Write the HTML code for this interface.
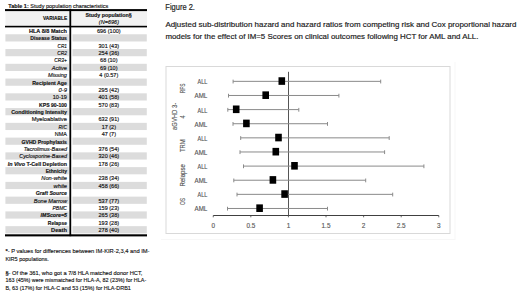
<!DOCTYPE html>
<html><head><meta charset="utf-8"><title>Table and Figure</title>
<style>
html,body{margin:0;padding:0;background:#fff;width:520px;height:297px;overflow:hidden;font-family:"Liberation Sans",sans-serif;}
svg{display:block;}
</style></head><body>
<svg width="520" height="297" viewBox="0 0 520 297" style="font-family:&quot;Liberation Sans&quot;, sans-serif">
<rect width="520" height="297" fill="#fff"/>
<text x="8.30" y="7.60" font-size="6.1" fill="#111" stroke="#111" stroke-width="0.16" textLength="100.00" lengthAdjust="spacingAndGlyphs"><tspan font-weight="bold">Table 1:</tspan> Study population characteristics</text>
<rect x="5.5" y="11" width="141.5" height="15" fill="#f2f2f2"/>
<rect x="5.4" y="34.28" width="63.4" height="7.2" fill="#dcdcdc"/>
<rect x="72.5" y="34.28" width="74.3" height="7.2" fill="#dcdcdc"/>
<rect x="5.4" y="49.04" width="63.4" height="7.2" fill="#dcdcdc"/>
<rect x="72.5" y="49.04" width="74.3" height="7.2" fill="#dcdcdc"/>
<rect x="5.4" y="63.80" width="63.4" height="7.2" fill="#dcdcdc"/>
<rect x="72.5" y="63.80" width="74.3" height="7.2" fill="#dcdcdc"/>
<rect x="5.4" y="78.56" width="63.4" height="7.2" fill="#dcdcdc"/>
<rect x="72.5" y="78.56" width="74.3" height="7.2" fill="#dcdcdc"/>
<rect x="5.4" y="93.32" width="63.4" height="7.2" fill="#dcdcdc"/>
<rect x="72.5" y="93.32" width="74.3" height="7.2" fill="#dcdcdc"/>
<rect x="5.4" y="108.08" width="63.4" height="7.2" fill="#dcdcdc"/>
<rect x="72.5" y="108.08" width="74.3" height="7.2" fill="#dcdcdc"/>
<rect x="5.4" y="122.84" width="63.4" height="7.2" fill="#dcdcdc"/>
<rect x="72.5" y="122.84" width="74.3" height="7.2" fill="#dcdcdc"/>
<rect x="5.4" y="137.60" width="63.4" height="7.2" fill="#dcdcdc"/>
<rect x="72.5" y="137.60" width="74.3" height="7.2" fill="#dcdcdc"/>
<rect x="5.4" y="152.36" width="63.4" height="7.2" fill="#dcdcdc"/>
<rect x="72.5" y="152.36" width="74.3" height="7.2" fill="#dcdcdc"/>
<rect x="5.4" y="167.12" width="63.4" height="7.2" fill="#dcdcdc"/>
<rect x="72.5" y="167.12" width="74.3" height="7.2" fill="#dcdcdc"/>
<rect x="5.4" y="181.88" width="63.4" height="7.2" fill="#dcdcdc"/>
<rect x="72.5" y="181.88" width="74.3" height="7.2" fill="#dcdcdc"/>
<rect x="5.4" y="196.64" width="63.4" height="7.2" fill="#dcdcdc"/>
<rect x="72.5" y="196.64" width="74.3" height="7.2" fill="#dcdcdc"/>
<rect x="5.4" y="211.40" width="63.4" height="7.2" fill="#dcdcdc"/>
<rect x="72.5" y="211.40" width="74.3" height="7.2" fill="#dcdcdc"/>
<rect x="5.4" y="226.16" width="63.4" height="7.2" fill="#dcdcdc"/>
<rect x="72.5" y="226.16" width="74.3" height="7.2" fill="#dcdcdc"/>
<rect x="5" y="9.1" width="142" height="2.0" fill="#000"/>
<rect x="5" y="25.8" width="142" height="1.6" fill="#000"/>
<rect x="5" y="234.3" width="142" height="2.1" fill="#000"/>
<rect x="69.4" y="8.8" width="1.8" height="227.4" fill="#000"/>
<text x="67.20" y="19.80" font-size="6.1" font-weight="bold" text-anchor="end" fill="#111" stroke="#111" stroke-width="0.16" textLength="24.20" lengthAdjust="spacingAndGlyphs">VARIABLE</text>
<text x="108.60" y="17.30" font-size="6.1" font-weight="bold" text-anchor="middle" fill="#111" stroke="#111" stroke-width="0.16" textLength="46.40" lengthAdjust="spacingAndGlyphs">Study population§</text>
<text x="108.90" y="24.30" font-size="6.1" font-style="italic" text-anchor="middle" fill="#111" stroke="#111" stroke-width="0.16" textLength="20.20" lengthAdjust="spacingAndGlyphs">(N=696)</text>
<text x="66.95" y="32.85" font-size="6.1" font-weight="bold" text-anchor="end" fill="#111" stroke="#111" stroke-width="0.16" textLength="38.00" lengthAdjust="spacingAndGlyphs">HLA 8/8 Match</text>
<text x="108.80" y="32.85" font-size="6.1" text-anchor="middle" fill="#111" stroke="#111" stroke-width="0.16" textLength="23.63" lengthAdjust="spacingAndGlyphs">696 (100)</text>
<text x="66.95" y="40.23" font-size="6.1" font-weight="bold" text-anchor="end" fill="#111" stroke="#111" stroke-width="0.16" textLength="36.60" lengthAdjust="spacingAndGlyphs">Disease Status</text>
<text x="66.95" y="47.61" font-size="6.1" font-style="italic" text-anchor="end" fill="#111" stroke="#111" stroke-width="0.16" textLength="9.40" lengthAdjust="spacingAndGlyphs">CR1</text>
<text x="108.80" y="47.61" font-size="6.1" text-anchor="middle" fill="#111" stroke="#111" stroke-width="0.16" textLength="20.54" lengthAdjust="spacingAndGlyphs">301 (43)</text>
<text x="66.95" y="54.99" font-size="6.1" font-style="italic" text-anchor="end" fill="#111" stroke="#111" stroke-width="0.16" textLength="9.70" lengthAdjust="spacingAndGlyphs">CR2</text>
<text x="108.80" y="54.99" font-size="6.1" text-anchor="middle" fill="#111" stroke="#111" stroke-width="0.16" textLength="20.54" lengthAdjust="spacingAndGlyphs">254 (36)</text>
<text x="66.95" y="62.37" font-size="6.1" font-style="italic" text-anchor="end" fill="#111" stroke="#111" stroke-width="0.16" textLength="12.70" lengthAdjust="spacingAndGlyphs">CR3+</text>
<text x="108.80" y="62.37" font-size="6.1" text-anchor="middle" fill="#111" stroke="#111" stroke-width="0.16" textLength="17.45" lengthAdjust="spacingAndGlyphs">68 (10)</text>
<text x="66.95" y="69.75" font-size="6.1" font-style="italic" text-anchor="end" fill="#111" stroke="#111" stroke-width="0.16" textLength="15.10" lengthAdjust="spacingAndGlyphs">Active</text>
<text x="108.80" y="69.75" font-size="6.1" text-anchor="middle" fill="#111" stroke="#111" stroke-width="0.16" textLength="17.45" lengthAdjust="spacingAndGlyphs">69 (10)</text>
<text x="66.95" y="77.13" font-size="6.1" font-style="italic" text-anchor="end" fill="#111" stroke="#111" stroke-width="0.16" textLength="18.90" lengthAdjust="spacingAndGlyphs">Missing</text>
<text x="108.80" y="77.13" font-size="6.1" text-anchor="middle" fill="#111" stroke="#111" stroke-width="0.16" textLength="18.98" lengthAdjust="spacingAndGlyphs">4 (0.57)</text>
<text x="66.95" y="84.51" font-size="6.1" font-weight="bold" text-anchor="end" fill="#111" stroke="#111" stroke-width="0.16" textLength="34.60" lengthAdjust="spacingAndGlyphs">Recipient Age</text>
<text x="66.95" y="91.89" font-size="6.1" font-style="italic" text-anchor="end" fill="#111" stroke="#111" stroke-width="0.16" textLength="8.40" lengthAdjust="spacingAndGlyphs">0-9</text>
<text x="108.80" y="91.89" font-size="6.1" text-anchor="middle" fill="#111" stroke="#111" stroke-width="0.16" textLength="20.54" lengthAdjust="spacingAndGlyphs">295 (42)</text>
<text x="66.95" y="99.27" font-size="6.1" text-anchor="end" fill="#111" stroke="#111" stroke-width="0.16" textLength="14.20" lengthAdjust="spacingAndGlyphs">10-19</text>
<text x="108.80" y="99.27" font-size="6.1" text-anchor="middle" fill="#111" stroke="#111" stroke-width="0.16" textLength="20.54" lengthAdjust="spacingAndGlyphs">401 (58)</text>
<text x="66.95" y="106.65" font-size="6.1" font-weight="bold" text-anchor="end" fill="#111" stroke="#111" stroke-width="0.16" textLength="27.90" lengthAdjust="spacingAndGlyphs">KPS 90-100</text>
<text x="108.80" y="106.65" font-size="6.1" text-anchor="middle" fill="#111" stroke="#111" stroke-width="0.16" textLength="20.54" lengthAdjust="spacingAndGlyphs">570 (83)</text>
<text x="66.95" y="114.03" font-size="6.1" font-weight="bold" text-anchor="end" fill="#111" stroke="#111" stroke-width="0.16" textLength="55.70" lengthAdjust="spacingAndGlyphs">Conditioning Intensity</text>
<text x="66.95" y="121.41" font-size="6.1" text-anchor="end" fill="#111" stroke="#111" stroke-width="0.16" textLength="35.30" lengthAdjust="spacingAndGlyphs">Myeloablative</text>
<text x="108.80" y="121.41" font-size="6.1" text-anchor="middle" fill="#111" stroke="#111" stroke-width="0.16" textLength="20.54" lengthAdjust="spacingAndGlyphs">632 (91)</text>
<text x="66.95" y="128.79" font-size="6.1" font-style="italic" text-anchor="end" fill="#111" stroke="#111" stroke-width="0.16" textLength="8.40" lengthAdjust="spacingAndGlyphs">RIC</text>
<text x="108.80" y="128.79" font-size="6.1" text-anchor="middle" fill="#111" stroke="#111" stroke-width="0.16" textLength="14.35" lengthAdjust="spacingAndGlyphs">17 (2)</text>
<text x="66.95" y="136.17" font-size="6.1" text-anchor="end" fill="#111" stroke="#111" stroke-width="0.16" textLength="12.10" lengthAdjust="spacingAndGlyphs">NMA</text>
<text x="108.80" y="136.17" font-size="6.1" text-anchor="middle" fill="#111" stroke="#111" stroke-width="0.16" textLength="14.35" lengthAdjust="spacingAndGlyphs">47 (7)</text>
<text x="66.95" y="143.55" font-size="6.1" font-weight="bold" text-anchor="end" fill="#111" stroke="#111" stroke-width="0.16" textLength="45.50" lengthAdjust="spacingAndGlyphs">GVHD Prophylaxis</text>
<text x="66.95" y="150.93" font-size="6.1" font-style="italic" text-anchor="end" fill="#111" stroke="#111" stroke-width="0.16" textLength="43.30" lengthAdjust="spacingAndGlyphs">Tacrolimus-Based</text>
<text x="108.80" y="150.93" font-size="6.1" text-anchor="middle" fill="#111" stroke="#111" stroke-width="0.16" textLength="20.54" lengthAdjust="spacingAndGlyphs">376 (54)</text>
<text x="66.95" y="158.31" font-size="6.1" font-style="italic" text-anchor="end" fill="#111" stroke="#111" stroke-width="0.16" textLength="47.60" lengthAdjust="spacingAndGlyphs">Cyclosporine-Based</text>
<text x="108.80" y="158.31" font-size="6.1" text-anchor="middle" fill="#111" stroke="#111" stroke-width="0.16" textLength="20.54" lengthAdjust="spacingAndGlyphs">320 (46)</text>
<text x="66.95" y="165.69" font-size="6.1" font-weight="bold" text-anchor="end" fill="#111" stroke="#111" stroke-width="0.16" textLength="59.20" lengthAdjust="spacingAndGlyphs"><tspan font-style="italic">In Vivo</tspan> T-Cell Depletion</text>
<text x="108.80" y="165.69" font-size="6.1" text-anchor="middle" fill="#111" stroke="#111" stroke-width="0.16" textLength="20.54" lengthAdjust="spacingAndGlyphs">178 (26)</text>
<text x="66.95" y="173.07" font-size="6.1" font-weight="bold" text-anchor="end" fill="#111" stroke="#111" stroke-width="0.16" textLength="21.20" lengthAdjust="spacingAndGlyphs">Ethnicity</text>
<text x="66.95" y="180.45" font-size="6.1" font-style="italic" text-anchor="end" fill="#111" stroke="#111" stroke-width="0.16" textLength="25.60" lengthAdjust="spacingAndGlyphs">Non-white</text>
<text x="108.80" y="180.45" font-size="6.1" text-anchor="middle" fill="#111" stroke="#111" stroke-width="0.16" textLength="20.54" lengthAdjust="spacingAndGlyphs">238 (34)</text>
<text x="66.95" y="187.83" font-size="6.1" font-style="italic" text-anchor="end" fill="#111" stroke="#111" stroke-width="0.16" textLength="13.40" lengthAdjust="spacingAndGlyphs">white</text>
<text x="108.80" y="187.83" font-size="6.1" text-anchor="middle" fill="#111" stroke="#111" stroke-width="0.16" textLength="20.54" lengthAdjust="spacingAndGlyphs">458 (66)</text>
<text x="66.95" y="195.21" font-size="6.1" font-weight="bold" font-style="italic" text-anchor="end" fill="#111" stroke="#111" stroke-width="0.16" textLength="31.30" lengthAdjust="spacingAndGlyphs">Graft Source</text>
<text x="66.95" y="202.59" font-size="6.1" font-style="italic" text-anchor="end" fill="#111" stroke="#111" stroke-width="0.16" textLength="33.20" lengthAdjust="spacingAndGlyphs">Bone Marrow</text>
<text x="108.80" y="202.59" font-size="6.1" text-anchor="middle" fill="#111" stroke="#111" stroke-width="0.16" textLength="20.54" lengthAdjust="spacingAndGlyphs">537 (77)</text>
<text x="66.95" y="209.97" font-size="6.1" font-style="italic" text-anchor="end" fill="#111" stroke="#111" stroke-width="0.16" textLength="14.50" lengthAdjust="spacingAndGlyphs">PBMC</text>
<text x="108.80" y="209.97" font-size="6.1" text-anchor="middle" fill="#111" stroke="#111" stroke-width="0.16" textLength="20.54" lengthAdjust="spacingAndGlyphs">159 (23)</text>
<text x="66.95" y="217.35" font-size="6.1" font-weight="bold" font-style="italic" text-anchor="end" fill="#111" stroke="#111" stroke-width="0.16" textLength="26.40" lengthAdjust="spacingAndGlyphs">IMScore=5</text>
<text x="108.80" y="217.35" font-size="6.1" text-anchor="middle" fill="#111" stroke="#111" stroke-width="0.16" textLength="20.54" lengthAdjust="spacingAndGlyphs">265 (38)</text>
<text x="66.95" y="224.73" font-size="6.1" font-weight="bold" text-anchor="end" fill="#111" stroke="#111" stroke-width="0.16" textLength="19.10" lengthAdjust="spacingAndGlyphs">Relapse</text>
<text x="108.80" y="224.73" font-size="6.1" text-anchor="middle" fill="#111" stroke="#111" stroke-width="0.16" textLength="20.54" lengthAdjust="spacingAndGlyphs">193 (28)</text>
<text x="66.95" y="232.11" font-size="6.1" font-weight="bold" text-anchor="end" fill="#111" stroke="#111" stroke-width="0.16" textLength="15.90" lengthAdjust="spacingAndGlyphs">Death</text>
<text x="108.80" y="232.11" font-size="6.1" text-anchor="middle" fill="#111" stroke="#111" stroke-width="0.16" textLength="20.54" lengthAdjust="spacingAndGlyphs">278 (40)</text>
<text x="5.40" y="253.00" font-size="6.2" fill="#111" stroke="#111" stroke-width="0.14" textLength="144.10" lengthAdjust="spacingAndGlyphs"><tspan font-weight="bold">*</tspan>- P values for differences between IM-KIR-2,3,4 and IM-</text>
<text x="5.40" y="260.70" font-size="6.2" fill="#111" stroke="#111" stroke-width="0.14" textLength="43.50" lengthAdjust="spacingAndGlyphs">KIR5 populations.</text>
<text x="5.40" y="274.60" font-size="6.2" fill="#111" stroke="#111" stroke-width="0.14" textLength="137.00" lengthAdjust="spacingAndGlyphs"><tspan font-weight="bold">§</tspan>- Of the 361, who got a 7/8 HLA matched donor HCT,</text>
<text x="5.40" y="282.20" font-size="6.2" fill="#111" stroke="#111" stroke-width="0.14" textLength="140.80" lengthAdjust="spacingAndGlyphs">163 (45%) were mismatched for HLA-A, 82 (23%) for HLA-</text>
<text x="5.40" y="289.80" font-size="6.2" fill="#111" stroke="#111" stroke-width="0.14" textLength="125.50" lengthAdjust="spacingAndGlyphs">B, 63 (17%) for HLA-C and 53 (15%) for HLA-DRB1</text>
<text x="165.30" y="9.70" font-size="8.3" fill="#1a1a1a" stroke="#1a1a1a" stroke-width="0.18" textLength="29.60" lengthAdjust="spacingAndGlyphs">Figure 2.</text>
<text x="165.40" y="26.70" font-size="8.0" fill="#1a1a1a" stroke="#1a1a1a" stroke-width="0.18" textLength="351.00" lengthAdjust="spacingAndGlyphs">Adjusted sub-distribution hazard and hazard ratios from competing risk and Cox proportional hazard</text>
<text x="165.40" y="38.70" font-size="8.0" fill="#1a1a1a" stroke="#1a1a1a" stroke-width="0.18" textLength="313.00" lengthAdjust="spacingAndGlyphs">models for the effect of IM=5 Scores on clinical outcomes following HCT for AML and ALL.</text>
<line x1="455" y1="62" x2="455" y2="240" stroke="#f7f7f7" stroke-width="1"/>
<line x1="161" y1="239.5" x2="455" y2="239.5" stroke="#f7f7f7" stroke-width="1"/>
<rect x="166" y="66.5" width="284" height="167" fill="#fff" stroke="#d9d9d9" stroke-width="1"/>
<line x1="213.25" y1="215.5" x2="438.79" y2="215.5" stroke="#404040" stroke-width="1"/>
<line x1="213.25" y1="215.5" x2="213.25" y2="217.3" stroke="#404040" stroke-width="0.8"/>
<line x1="250.84" y1="215.5" x2="250.84" y2="217.3" stroke="#404040" stroke-width="0.8"/>
<line x1="288.43" y1="215.5" x2="288.43" y2="217.3" stroke="#404040" stroke-width="0.8"/>
<line x1="326.02" y1="215.5" x2="326.02" y2="217.3" stroke="#404040" stroke-width="0.8"/>
<line x1="363.61" y1="215.5" x2="363.61" y2="217.3" stroke="#404040" stroke-width="0.8"/>
<line x1="401.20" y1="215.5" x2="401.20" y2="217.3" stroke="#404040" stroke-width="0.8"/>
<line x1="438.79" y1="215.5" x2="438.79" y2="217.3" stroke="#404040" stroke-width="0.8"/>
<text x="213.25" y="227.50" font-size="6.4" text-anchor="middle" fill="#595959" stroke="#595959" stroke-width="0.15">0</text>
<text x="250.84" y="227.50" font-size="6.4" text-anchor="middle" fill="#595959" stroke="#595959" stroke-width="0.15">0.5</text>
<text x="288.43" y="227.50" font-size="6.4" text-anchor="middle" fill="#595959" stroke="#595959" stroke-width="0.15">1</text>
<text x="326.02" y="227.50" font-size="6.4" text-anchor="middle" fill="#595959" stroke="#595959" stroke-width="0.15">1.5</text>
<text x="363.61" y="227.50" font-size="6.4" text-anchor="middle" fill="#595959" stroke="#595959" stroke-width="0.15">2</text>
<text x="401.20" y="227.50" font-size="6.4" text-anchor="middle" fill="#595959" stroke="#595959" stroke-width="0.15">2.5</text>
<text x="438.79" y="227.50" font-size="6.4" text-anchor="middle" fill="#595959" stroke="#595959" stroke-width="0.15">3</text>
<line x1="288.5" y1="71.8" x2="288.5" y2="215.5" stroke="#555" stroke-width="1"/>
<line x1="233.1" y1="81.35" x2="380.7" y2="81.35" stroke="#8a8a8a" stroke-width="1"/>
<line x1="233.1" y1="79.65" x2="233.1" y2="83.45" stroke="#8a8a8a" stroke-width="1"/>
<line x1="380.7" y1="79.65" x2="380.7" y2="83.45" stroke="#8a8a8a" stroke-width="1"/>
<rect x="278.50" y="77.25" width="6.6" height="7.6" fill="#000"/>
<text x="207.30" y="84.35" font-size="6.7" text-anchor="end" fill="#595959" stroke="#595959" stroke-width="0.15" textLength="9.70" lengthAdjust="spacingAndGlyphs">ALL</text>
<line x1="228.5" y1="95.47" x2="338.9" y2="95.47" stroke="#8a8a8a" stroke-width="1"/>
<line x1="228.5" y1="93.77" x2="228.5" y2="97.57" stroke="#8a8a8a" stroke-width="1"/>
<line x1="338.9" y1="93.77" x2="338.9" y2="97.57" stroke="#8a8a8a" stroke-width="1"/>
<rect x="262.40" y="91.38" width="6.6" height="7.6" fill="#000"/>
<text x="207.30" y="98.47" font-size="6.7" text-anchor="end" fill="#595959" stroke="#595959" stroke-width="0.15" textLength="12.80" lengthAdjust="spacingAndGlyphs">AML</text>
<line x1="227.8" y1="109.60" x2="298.8" y2="109.60" stroke="#8a8a8a" stroke-width="1"/>
<line x1="227.8" y1="107.90" x2="227.8" y2="111.70" stroke="#8a8a8a" stroke-width="1"/>
<line x1="298.8" y1="107.90" x2="298.8" y2="111.70" stroke="#8a8a8a" stroke-width="1"/>
<rect x="232.90" y="105.50" width="6.6" height="7.6" fill="#000"/>
<text x="207.30" y="112.60" font-size="6.7" text-anchor="end" fill="#595959" stroke="#595959" stroke-width="0.15" textLength="9.70" lengthAdjust="spacingAndGlyphs">ALL</text>
<line x1="233.0" y1="123.72" x2="327.5" y2="123.72" stroke="#8a8a8a" stroke-width="1"/>
<line x1="233.0" y1="122.02" x2="233.0" y2="125.82" stroke="#8a8a8a" stroke-width="1"/>
<line x1="327.5" y1="122.02" x2="327.5" y2="125.82" stroke="#8a8a8a" stroke-width="1"/>
<rect x="243.10" y="119.62" width="6.6" height="7.6" fill="#000"/>
<text x="207.30" y="126.72" font-size="6.7" text-anchor="end" fill="#595959" stroke="#595959" stroke-width="0.15" textLength="12.80" lengthAdjust="spacingAndGlyphs">AML</text>
<line x1="240.7" y1="137.85" x2="389.2" y2="137.85" stroke="#8a8a8a" stroke-width="1"/>
<line x1="240.7" y1="136.15" x2="240.7" y2="139.95" stroke="#8a8a8a" stroke-width="1"/>
<line x1="389.2" y1="136.15" x2="389.2" y2="139.95" stroke="#8a8a8a" stroke-width="1"/>
<rect x="275.20" y="133.75" width="6.6" height="7.6" fill="#000"/>
<text x="207.30" y="140.85" font-size="6.7" text-anchor="end" fill="#595959" stroke="#595959" stroke-width="0.15" textLength="9.70" lengthAdjust="spacingAndGlyphs">ALL</text>
<line x1="240.0" y1="151.97" x2="384.6" y2="151.97" stroke="#8a8a8a" stroke-width="1"/>
<line x1="240.0" y1="150.28" x2="240.0" y2="154.07" stroke="#8a8a8a" stroke-width="1"/>
<line x1="384.6" y1="150.28" x2="384.6" y2="154.07" stroke="#8a8a8a" stroke-width="1"/>
<rect x="272.50" y="147.88" width="6.6" height="7.6" fill="#000"/>
<text x="207.30" y="154.97" font-size="6.7" text-anchor="end" fill="#595959" stroke="#595959" stroke-width="0.15" textLength="12.80" lengthAdjust="spacingAndGlyphs">AML</text>
<line x1="243.5" y1="166.10" x2="423.9" y2="166.10" stroke="#8a8a8a" stroke-width="1"/>
<line x1="243.5" y1="164.40" x2="243.5" y2="168.20" stroke="#8a8a8a" stroke-width="1"/>
<line x1="423.9" y1="164.40" x2="423.9" y2="168.20" stroke="#8a8a8a" stroke-width="1"/>
<rect x="291.20" y="162.00" width="6.6" height="7.6" fill="#000"/>
<text x="207.30" y="169.10" font-size="6.7" text-anchor="end" fill="#595959" stroke="#595959" stroke-width="0.15" textLength="9.70" lengthAdjust="spacingAndGlyphs">ALL</text>
<line x1="233.8" y1="180.22" x2="365.7" y2="180.22" stroke="#8a8a8a" stroke-width="1"/>
<line x1="233.8" y1="178.53" x2="233.8" y2="182.32" stroke="#8a8a8a" stroke-width="1"/>
<line x1="365.7" y1="178.53" x2="365.7" y2="182.32" stroke="#8a8a8a" stroke-width="1"/>
<rect x="269.60" y="176.12" width="6.6" height="7.6" fill="#000"/>
<text x="207.30" y="183.22" font-size="6.7" text-anchor="end" fill="#595959" stroke="#595959" stroke-width="0.15" textLength="12.80" lengthAdjust="spacingAndGlyphs">AML</text>
<line x1="237.0" y1="194.35" x2="392.7" y2="194.35" stroke="#8a8a8a" stroke-width="1"/>
<line x1="237.0" y1="192.65" x2="237.0" y2="196.45" stroke="#8a8a8a" stroke-width="1"/>
<line x1="392.7" y1="192.65" x2="392.7" y2="196.45" stroke="#8a8a8a" stroke-width="1"/>
<rect x="281.30" y="190.25" width="6.6" height="7.6" fill="#000"/>
<text x="207.30" y="197.35" font-size="6.7" text-anchor="end" fill="#595959" stroke="#595959" stroke-width="0.15" textLength="9.70" lengthAdjust="spacingAndGlyphs">ALL</text>
<line x1="227.5" y1="208.47" x2="327.5" y2="208.47" stroke="#8a8a8a" stroke-width="1"/>
<line x1="227.5" y1="206.78" x2="227.5" y2="210.57" stroke="#8a8a8a" stroke-width="1"/>
<line x1="327.5" y1="206.78" x2="327.5" y2="210.57" stroke="#8a8a8a" stroke-width="1"/>
<rect x="256.30" y="204.38" width="6.6" height="7.6" fill="#000"/>
<text x="207.30" y="211.47" font-size="6.7" text-anchor="end" fill="#595959" stroke="#595959" stroke-width="0.15" textLength="12.80" lengthAdjust="spacingAndGlyphs">AML</text>
<text x="0.00" y="2.20" font-size="6.4" text-anchor="middle" fill="#595959" stroke="#595959" stroke-width="0.15" textLength="9.70" lengthAdjust="spacingAndGlyphs" transform="translate(183.20000000000002,88.3) rotate(-90)">RFS</text>
<text x="0.00" y="2.20" font-size="6.4" text-anchor="middle" fill="#595959" stroke="#595959" stroke-width="0.15" textLength="27.00" lengthAdjust="spacingAndGlyphs" transform="translate(175.0,116.39999999999999) rotate(-90)">aGVHD 3-</text>
<text x="0.00" y="2.20" font-size="6.4" text-anchor="middle" fill="#595959" stroke="#595959" stroke-width="0.15" textLength="3.20" lengthAdjust="spacingAndGlyphs" transform="translate(182.9,117.0) rotate(-90)">4</text>
<text x="0.00" y="2.20" font-size="6.4" text-anchor="middle" fill="#595959" stroke="#595959" stroke-width="0.15" textLength="12.70" lengthAdjust="spacingAndGlyphs" transform="translate(183.1,145.70000000000002) rotate(-90)">TRM</text>
<text x="0.00" y="2.20" font-size="6.4" text-anchor="middle" fill="#595959" stroke="#595959" stroke-width="0.15" textLength="22.30" lengthAdjust="spacingAndGlyphs" transform="translate(183.1,175.3) rotate(-90)">Relapse</text>
<text x="0.00" y="2.20" font-size="6.4" text-anchor="middle" fill="#595959" stroke="#595959" stroke-width="0.15" textLength="7.00" lengthAdjust="spacingAndGlyphs" transform="translate(183.20000000000002,201.5) rotate(-90)">OS</text>
</svg>
</body></html>
